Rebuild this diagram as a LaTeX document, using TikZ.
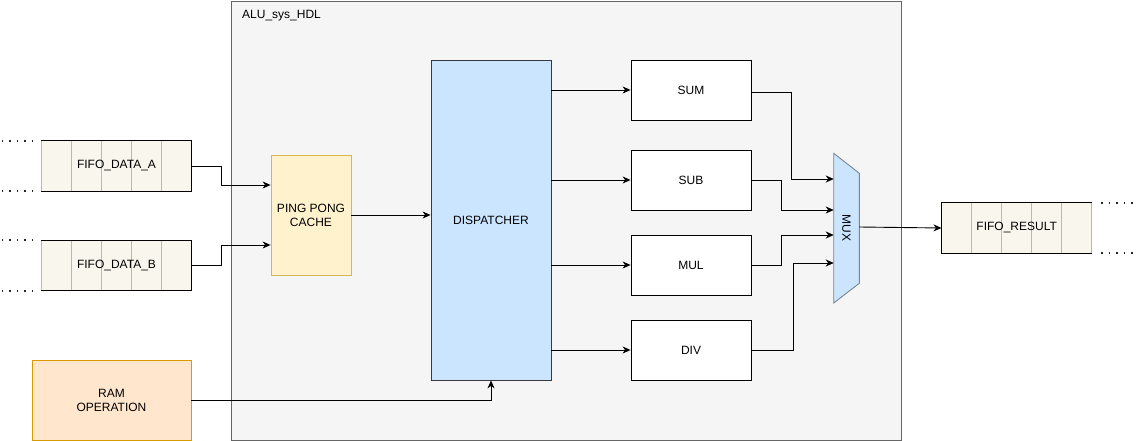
\documentclass[tikz,border=0pt]{standalone}
\usepackage{fontspec}
\setmainfont{Liberation Sans}
\usetikzlibrary{arrows.meta,calc}
\definecolor{contfill}{HTML}{F5F5F5}
\definecolor{contdraw}{HTML}{666666}
\definecolor{fifofill}{HTML}{F9F7ED}
\definecolor{cellgray}{HTML}{B8B8B8}
\definecolor{yelfill}{HTML}{FFF2CC}
\definecolor{yeldraw}{HTML}{D6B656}
\definecolor{bluefill}{HTML}{CCE5FF}
\definecolor{bluedraw}{HTML}{36393D}
\definecolor{muxdraw}{HTML}{7A8593}
\definecolor{orfill}{HTML}{FFE6CC}
\definecolor{ordraw}{HTML}{D79B00}
\tikzset{
  box/.style={draw=black, fill=white, line width=0.8pt, inner sep=0pt, align=center},
  fifobg/.style={fill=fifofill, inner sep=0pt, minimum width=150pt, minimum height=50pt},
  cell/.style={draw=cellgray, line width=0.8pt},
  edge/.style={draw=black, line width=1pt},
  dots/.style={line width=1.8pt, dash pattern=on 1.8pt off 5.7pt, black!85},
  arr/.style={draw=black, line width=0.9pt, -{Stealth[length=8pt,width=7pt,inset=2.5pt]}},
  lbl/.style={inner sep=0pt, align=center}
}
\begin{document}
\begin{tikzpicture}[x=1pt,y=-1pt,font=\fontsize{12}{14}\selectfont]
\useasboundingbox (0,0) rectangle (1144,441);
% container
\node[draw=contdraw, fill=contfill, line width=0.8pt, minimum width=670pt, minimum height=439pt, inner sep=0pt] (cont) at (566,220.5) {};
\node[lbl, anchor=west] (contlbl) at (242,16) {ALU\_sys\_HDL};

% FIFO A
\node[fifobg] (fifoA) at (116.5,166) {};
\foreach \i in {0,...,4} \draw[cell] ($(fifoA.north west)+(30*\i,0)$) -- ($(fifoA.south west)+(30*\i,0)$);
\draw[edge] (fifoA.north west) -- (fifoA.north east) -- (fifoA.south east) -- (fifoA.south west);
\node[lbl] (fifoAlbl) at (fifoA) {FIFO\_DATA\_A};
\draw[dots] ($(fifoA.north west)+(-8,0)$) -- ++(-32,0);
\draw[dots] ($(fifoA.south west)+(-8,0)$) -- ++(-32,0);

% FIFO B
\node[fifobg] (fifoB) at (116.5,265.5) {};
\foreach \i in {0,...,4} \draw[cell] ($(fifoB.north west)+(30*\i,0)$) -- ($(fifoB.south west)+(30*\i,0)$);
\draw[edge] (fifoB.north west) -- (fifoB.north east) -- (fifoB.south east) -- (fifoB.south west);
\node[lbl] (fifoBlbl) at (fifoB) {FIFO\_DATA\_B};
\draw[dots] ($(fifoB.north west)+(-8,0)$) -- ++(-32,0);
\draw[dots] ($(fifoB.south west)+(-8,0)$) -- ++(-32,0);

% FIFO RESULT
\node[fifobg] (fres) at (1016.7,228) {};
\foreach \i in {1,...,5} \draw[cell] ($(fres.north west)+(30*\i,0)$) -- ($(fres.south west)+(30*\i,0)$);
\draw[edge] (fres.north east) -- (fres.north west) -- (fres.south west) -- (fres.south east);
\node[lbl] (freslbl) at (fres) {FIFO\_RESULT};
\draw[dots] ($(fres.north east)+(9.2,0)$) -- ++(34,0);
\draw[dots] ($(fres.south east)+(9.2,0)$) -- ++(34,0);

% blocks
\node[box, fill=yelfill, draw=yeldraw, minimum width=80pt, minimum height=120pt] (ping) at (311,215) {PING PONG\\CACHE};
\node[box, fill=bluefill, draw=bluedraw, minimum width=120pt, minimum height=320pt] (disp) at (491,220) {DISPATCHER};
\node[box, minimum width=120pt, minimum height=60pt] (sum) at (691,90) {SUM};
\node[box, minimum width=120pt, minimum height=60pt] (sub) at (691,180) {SUB};
\node[box, minimum width=120pt, minimum height=60pt] (mul) at (691,265) {MUL};
\node[box, minimum width=120pt, minimum height=60pt] (div) at (691,350) {DIV};
\node[box, fill=orfill, draw=ordraw, minimum width=159pt, minimum height=80pt] (ram) at (111.5,400) {RAM\\OPERATION};

% MUX
\draw[fill=bluefill, draw=muxdraw, line width=0.9pt] (833.7,153.3) -- (859.3,173.3) -- (859.3,283.3) -- (833.7,303) -- cycle;
\node[lbl, rotate=-90] (mux) at (846.5,228) {MUX};
\coordinate (m1) at (833.7,179);
\coordinate (m2) at (833.7,210);
\coordinate (m3) at (833.7,235);
\coordinate (m4) at (833.7,263);
\coordinate (mo) at (859.3,227);

% connectors
\draw[arr] (fifoA.east) -- ++(30,0) |- ($(ping.west)+(0,-30)$);
\draw[arr] (fifoB.east) -- ++(30,0) |- ($(ping.west)+(0,30)$);
\draw[arr] (ping.east) -- (ping.east -| disp.west);
\draw[arr] (disp.east |- sum.west) -- (sum.west);
\draw[arr] (disp.east |- sub.west) -- (sub.west);
\draw[arr] (disp.east |- mul.west) -- (mul.west);
\draw[arr] (disp.east |- div.west) -- (div.west);
\draw[arr] ($(sum.east)+(0,2)$) -- ++(40,0) |- (m1);
\draw[arr] (sub.east) -- ++(30,0) |- (m2);
\draw[arr] (mul.east) -- ++(30,0) |- (m3);
\draw[arr] (div.east) -- ++(42,0) |- (m4);
\draw[arr] (mo) -- (fres.west);
\draw[arr] (ram.east) -| (disp.south);
\end{tikzpicture}
\end{document}
